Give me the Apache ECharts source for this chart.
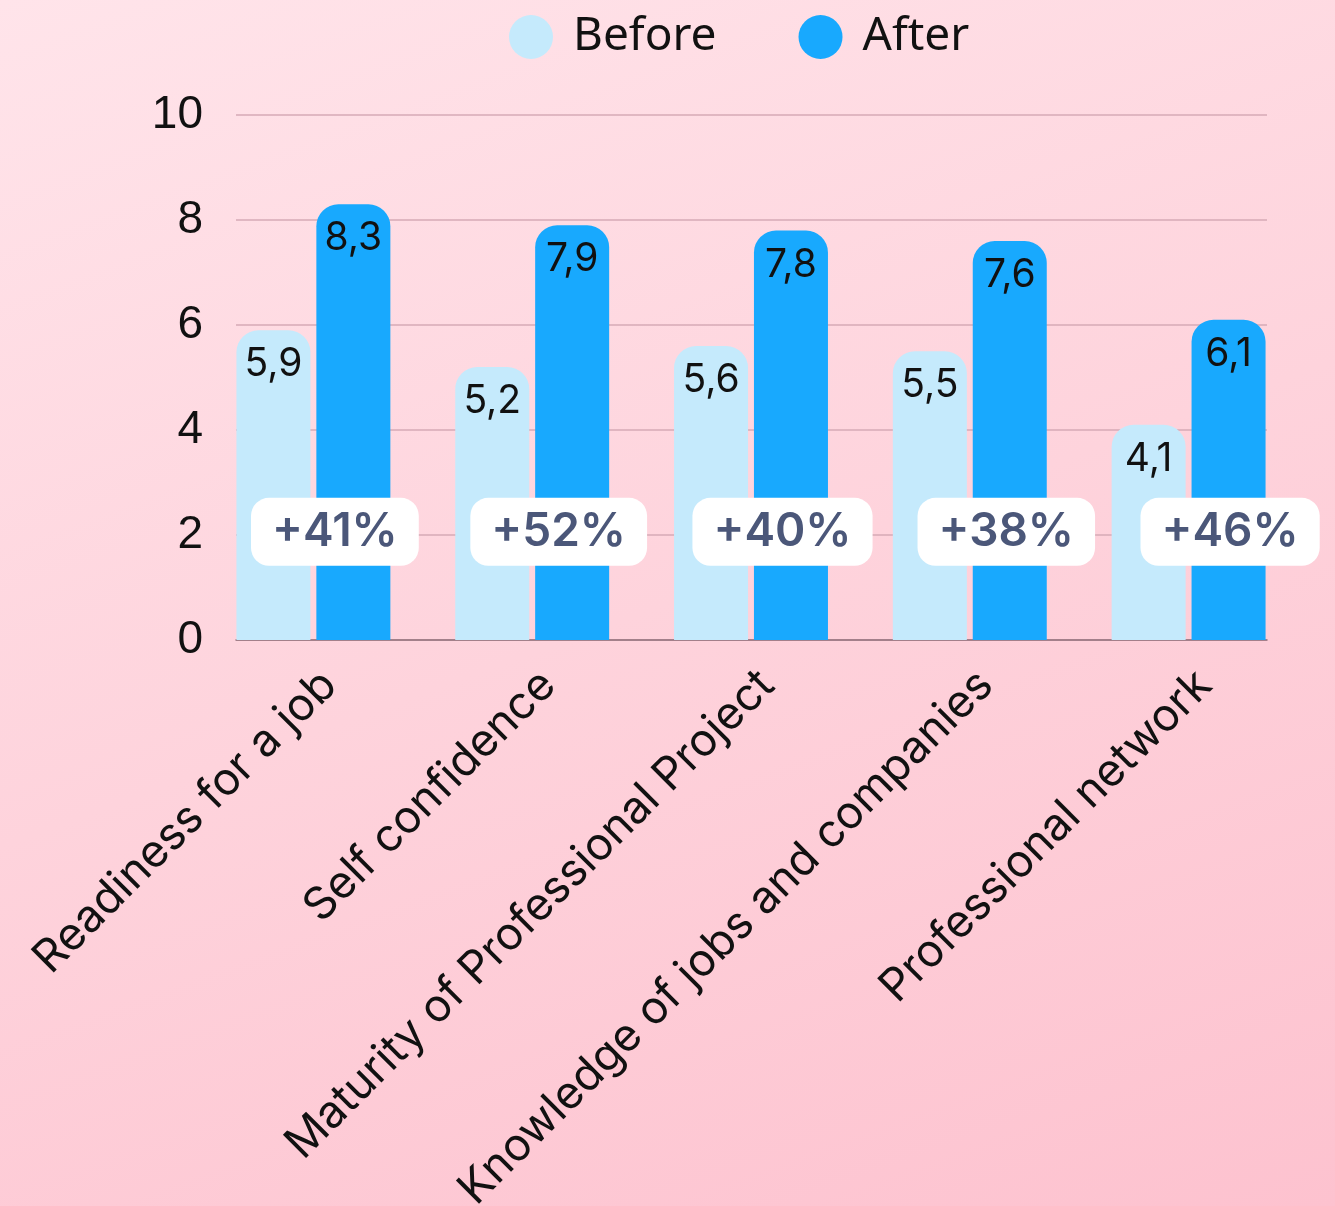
<!DOCTYPE html>
<html>
<head>
<meta charset="utf-8">
<script src="https://cdn.jsdelivr.net/npm/echarts@6/dist/echarts.min.js"></script>
<style>
  html, body { margin: 0; padding: 0; }
  #chart { width: 1335px; height: 1206px; background: linear-gradient(160deg, #ffe4ea 0%, #fed3dc 50%, #fdc2cf 100%); }
</style>
</head>
<body>
<div id="chart"></div>
<script>
// 类别
const categories = ['Readiness for a job', 'Self confidence', 'Maturity of Professional Project', 'Knowledge of jobs and companies', 'Professional network'];
// 前后分数
const beforeValues = [5.9, 5.2, 5.6, 5.5, 4.1];
const afterValues = [8.3, 7.9, 7.8, 7.6, 6.1];
// 增长百分比
const growthLabels = ['+41%', '+52%', '+40%', '+38%', '+46%'];
const growthLevel = [2.06, 2.06, 2.06, 2.06, 2.06];
const yTicks = [0, 2, 4, 6, 8, 10];

const commaNum = (v) => String(v).replace('.', ',');

let chart = echarts.init(document.getElementById('chart'));
let option = {
    legend: {
        left: 509,
        top: 14,
        padding: 0,
        icon: 'circle',
        itemWidth: 44,
        itemHeight: 44,
        itemGap: 82,
        textStyle: { fontSize: 46, color: '#111', fontFamily: 'Noto Sans', padding: [0, 0, 0, 15] },
        data: ['Before', 'After']
    },
    grid: [
        { left: 204, right: 37, top: 115, bottom: 566, outerBoundsMode: 'none' },    // 柱状图
        { left: 236, right: 68, top: 115, bottom: 566, outerBoundsMode: 'none' },    // y轴和网格线
        { left: 223, right: -7, top: 115, bottom: 566, outerBoundsMode: 'none' }     // 百分比标签
    ],
    xAxis: [
        {
            type: 'category',
            gridIndex: 0,
            data: categories,
            axisLine: { show: false },
            axisTick: { show: false },
            axisLabel: {
                rotate: 45,
                margin: 22,
                fontSize: 45,
                color: '#111',
                fontFamily: 'Inter',
                verticalAlign: 'top',
                interval: 0
            }
        },
        {
            type: 'value',
            gridIndex: 1,
            min: 0,
            max: 1,
            axisLine: { show: true, lineStyle: { color: '#8f6f78', width: 1.5 } },
            axisTick: { show: false },
            axisLabel: { show: false },
            splitLine: { show: false }
        },
        {
            type: 'category',
            gridIndex: 2,
            data: categories,
            show: false
        }
    ],
    yAxis: [
        {
            type: 'value',
            gridIndex: 0,
            min: 0,
            max: 10,
            show: false
        },
        {
            type: 'value',
            gridIndex: 1,
            min: 0,
            max: 10,
            interval: 2,
            axisLine: { show: false },
            axisTick: { show: false },
            axisLabel: {
                margin: 33,
                fontSize: 46,
                color: '#111',
                fontFamily: 'Liberation Sans',
                formatter: (v) => yTicks.includes(v) ? String(v) : ''
            },
            splitLine: { lineStyle: { color: '#d6aab6', width: 1.5 } }
        },
        {
            type: 'value',
            gridIndex: 2,
            min: 0,
            max: 10,
            show: false
        }
    ],
    series: [
        {
            name: 'Before',
            type: 'bar',
            xAxisIndex: 0,
            yAxisIndex: 0,
            barWidth: 74,
            barGap: '8%',
            itemStyle: { color: '#c5eafc', borderRadius: [22, 22, 0, 0] },
            label: {
                show: true,
                position: 'insideTop',
                distance: 15,
                fontSize: 39,
                color: '#111',
                fontFamily: 'Inter',
                formatter: (p) => commaNum(p.value)
            },
            data: beforeValues,
            z: 2
        },
        {
            name: 'After',
            type: 'bar',
            xAxisIndex: 0,
            yAxisIndex: 0,
            barWidth: 74,
            itemStyle: { color: '#18a9fe', borderRadius: [22, 22, 0, 0] },
            label: {
                show: true,
                position: 'insideTop',
                distance: 15,
                fontSize: 39,
                color: '#111',
                fontFamily: 'Inter',
                formatter: (p) => commaNum(p.value)
            },
            data: afterValues,
            z: 2
        },
        {
            name: 'growth',
            type: 'scatter',
            xAxisIndex: 2,
            yAxisIndex: 2,
            symbolSize: 1,
            itemStyle: { color: 'rgba(0,0,0,0)', opacity: 1 },
            label: {
                show: true,
                position: 'inside',
                fontSize: 46,
                fontWeight: 600,
                fontFamily: 'Inter',
                color: '#4b5779',
                backgroundColor: '#ffffff',
                borderRadius: 18,
                padding: [11, 21, 11, 21],
                formatter: (p) => growthLabels[p.dataIndex]
            },
            emphasis: { disabled: true },
            data: growthLevel,
            z: 5
        }
    ]
};
chart.setOption(option);
</script>
</body>
</html>
